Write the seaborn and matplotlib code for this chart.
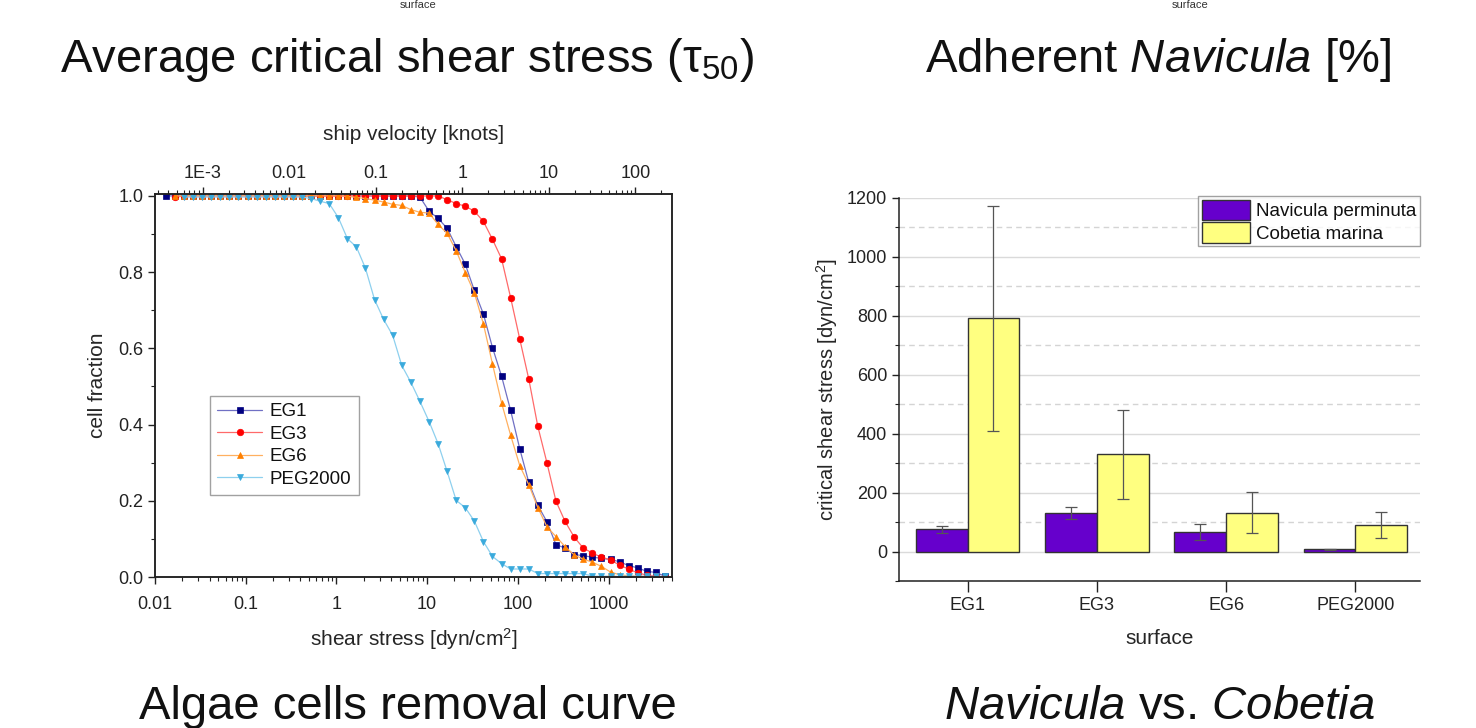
import numpy as np
import pandas as pd
import matplotlib
matplotlib.use("Agg")
import matplotlib.pyplot as plt
import seaborn as sns
from matplotlib.ticker import (LogLocator, MultipleLocator, FixedLocator,
                               FixedFormatter, NullFormatter)

nan = np.nan

# ---------------- data: removal curves ----------------
shear_stress = [0.0132, 0.0166, 0.0209, 0.0263, 0.0331, 0.0417, 0.0525, 0.0661,
                0.0832, 0.105, 0.132, 0.166, 0.209, 0.263, 0.331, 0.417, 0.525,
                0.661, 0.832, 1.05, 1.32, 1.66, 2.09, 2.63, 3.31, 4.17, 5.25,
                6.61, 8.32, 10.5, 13.2, 16.6, 20.9, 26.3, 33.1, 41.7, 52.5, 66.1,
                83.2, 105, 132, 166, 209, 263, 331, 417, 525, 661, 832, 1050,
                1320, 1660, 2090, 2630, 3310, 4170]

eg1 = [1.0, 1.0, 1.0, 1.0, 1.0, 1.0, 1.0, 1.0, 1.0, 1.0, 1.0, 1.0, 1.0, 1.0,
       1.0, 1.0, 1.0, 1.0, 1.0, 1.0, 1.0, 1.0, 1.0, 1.0, 1.0, 1.0, 1.0, 1.0,
       0.997, 0.960, 0.941, 0.915, 0.867, 0.821, 0.752, 0.690, 0.602, 0.527,
       0.437, 0.336, 0.248, 0.188, 0.145, 0.085, 0.076, 0.059, 0.056, 0.052,
       0.049, 0.046, 0.040, 0.030, 0.024, 0.015, 0.012, 0.002]

eg3 = [nan, 0.997, 1.0, 1.0, 1.0, 1.0, 1.0, 1.0, 1.0, 1.0, 1.0, 1.0, 1.0, 1.0,
       1.0, 1.0, 1.0, 1.0, 1.0, 1.0, 1.0, 1.0, 1.0, 1.0, 1.0, 1.0, 1.0, 1.0,
       1.0, 1.0, 1.0, 0.990, 0.980, 0.973, 0.960, 0.933, 0.886, 0.835, 0.733,
       0.624, 0.519, 0.395, 0.300, 0.199, 0.146, 0.105, 0.076, 0.063, 0.052,
       0.045, 0.031, 0.021, 0.011, 0.005, 0.002, 0.0]

eg6 = [nan, 1.0, 1.0, 1.0, 1.0, 1.0, 1.0, 1.0, 1.0, 1.0, 1.0, 1.0, 1.0, 1.0,
       1.0, 1.0, 1.0, 1.0, 1.0, 1.0, 0.999, 0.996, 0.993, 0.989, 0.984, 0.978,
       0.975, 0.964, 0.957, 0.955, 0.925, 0.902, 0.856, 0.799, 0.746, 0.664,
       0.559, 0.457, 0.372, 0.292, 0.242, 0.182, 0.132, 0.106, 0.080, 0.058,
       0.047, 0.039, 0.028, 0.013, 0.006, 0.003, 0.002, 0.001, 0.0, 0.0]

peg2000 = [nan, nan, 0.997, 0.997, 0.997, 0.997, 0.997, 0.997, 0.997, 0.997,
           0.997, 0.997, 0.997, 0.997, 0.997, 0.997, 0.993, 0.986, 0.980, 0.943,
           0.888, 0.866, 0.810, 0.728, 0.676, 0.634, 0.555, 0.511, 0.461, 0.408,
           0.350, 0.277, 0.201, 0.182, 0.147, 0.093, 0.054, 0.035, 0.021, 0.021,
           0.021, 0.009, 0.009, 0.009, 0.009, 0.009, 0.009, 0.002, 0.002, 0.002,
           0.002, 0.002, 0.002, 0.002, 0.002, 0.002]

curve_names = ["EG1", "EG3", "EG6", "PEG2000"]

top_ticks = [1e-3, 0.01, 0.1, 1, 10, 100]
top_labels = ["1E-3", "0.01", "0.1", "1", "10", "100"]
bottom_ticks = [0.01, 0.1, 1, 10, 100, 1000]
bottom_labels = ["0.01", "0.1", "1", "10", "100", "1000"]

# ---------------- data: critical shear stress bars ----------------
surfaces = ["EG1", "EG3", "EG6", "PEG2000"]
species = ["Navicula perminuta", "Cobetia marina"]
navicula = [75, 131, 65, 7]
navicula_err = [12, 20, 27, 1]
cobetia = [791, 330, 132, 90]
cobetia_err = [381, 150, 70, 44]

# ---------------- style ----------------
sns.set_style("ticks")
plt.rcParams["font.family"] = ["Liberation Sans", "DejaVu Sans"]
plt.rcParams["mathtext.fontset"] = "custom"
plt.rcParams["mathtext.rm"] = "Liberation Sans"
plt.rcParams["mathtext.it"] = "Liberation Sans:italic"
plt.rcParams["mathtext.bf"] = "Liberation Sans:bold"
plt.rcParams["axes.edgecolor"] = "#222222"
plt.rcParams["xtick.color"] = "#222222"
plt.rcParams["ytick.color"] = "#222222"
plt.rcParams["text.color"] = "#111111"

TICK_FS = 13
LABEL_FS = 15

W, H = 1476, 728
fig = plt.figure(figsize=(W / 100, H / 100), dpi=100)
fig.patch.set_facecolor("white")

def box(l, t, r, b):
    return [l / W, 1 - b / H, (r - l) / W, (b - t) / H]

# ---------------- left: removal curves ----------------
ax1 = fig.add_axes(box(155, 194, 672, 577))
frames = []
for name, vals in zip(curve_names, [eg1, eg3, eg6, peg2000]):
    frames.append(pd.DataFrame({"shear": shear_stress, "fraction": vals,
                                "surface": name}))
df_curves = pd.concat(frames, ignore_index=True).dropna()

dark = {"EG1": "#000080", "EG3": "#FF0000", "EG6": "#FF8000", "PEG2000": "#3AAADC"}
light = {"EG1": "#7070C4", "EG3": "#FF6A6A", "EG6": "#FFB060", "PEG2000": "#8ED0EE"}
markers = {"EG1": "s", "EG3": "o", "EG6": "^", "PEG2000": "v"}

sns.lineplot(data=df_curves, x="shear", y="fraction", hue="surface",
             hue_order=curve_names, style="surface", style_order=curve_names,
             markers=markers, dashes=False, palette=dark, estimator=None,
             sort=True, legend=False, ax=ax1, linewidth=0.9, markersize=4.7)
ax1.set_xscale("log")
curve_lines = ax1.lines[:4]
for ln, name in zip(curve_lines, curve_names):
    ln.set_color(light[name])
    ln.set_markerfacecolor(dark[name])
    ln.set_markeredgecolor(dark[name])
    ln.set_markeredgewidth(0.5)

ax1.set_xlim(0.01, 5000)
ax1.set_ylim(0, 1.005)
ax1.xaxis.set_major_locator(FixedLocator(bottom_ticks))
ax1.xaxis.set_major_formatter(FixedFormatter(bottom_labels))
ax1.xaxis.set_minor_locator(LogLocator(base=10, subs=range(2, 10), numticks=20))
ax1.xaxis.set_minor_formatter(NullFormatter())
ax1.yaxis.set_major_locator(MultipleLocator(0.2))
ax1.yaxis.set_minor_locator(MultipleLocator(0.1))
ax1.yaxis.set_major_formatter(plt.FuncFormatter(lambda v, p: f"{v:.1f}"))
ax1.tick_params(which="major", direction="out", length=5, width=1,
                labelsize=TICK_FS)
ax1.tick_params(which="minor", direction="out", length=3, width=0.8)
ax1.tick_params(axis="x", which="major", pad=9)
for s in ax1.spines.values():
    s.set_linewidth(1.1)
ax1.set_xlabel("shear stress [dyn/cm$^2$]", fontsize=LABEL_FS, labelpad=9)
ax1.set_ylabel("cell fraction", fontsize=LABEL_FS, labelpad=8)

ax1t = ax1.twiny()
ax1t.set_xscale("log")
ax1t.set_xlim(2.8e-4, 266)
ax1t.xaxis.set_major_locator(FixedLocator(top_ticks))
ax1t.xaxis.set_major_formatter(FixedFormatter(top_labels))
ax1t.xaxis.set_minor_locator(LogLocator(base=10, subs=range(2, 10), numticks=20))
ax1t.xaxis.set_minor_formatter(NullFormatter())
ax1t.tick_params(which="major", direction="out", length=5, width=1,
                 labelsize=TICK_FS, pad=4)
ax1t.tick_params(which="minor", direction="out", length=3, width=0.8)
ax1t.set_xlabel("ship velocity [knots]", fontsize=LABEL_FS, labelpad=18)
for s in ax1t.spines.values():
    s.set_linewidth(1.1)

leg1 = ax1.legend(curve_lines, curve_names, loc="upper left",
                  bbox_to_anchor=(0.106, 0.473), borderaxespad=0,
                  frameon=True, fancybox=False, edgecolor="#8a8a8a",
                  fontsize=13.5, handlelength=2.4, labelspacing=0.28,
                  handletextpad=0.4, borderpad=0.4)
leg1.get_frame().set_linewidth(1.0)

# ---------------- right: bar chart ----------------
ax2 = fig.add_axes(box(899, 198, 1420, 581))
df_bar = pd.DataFrame({
    "surface": surfaces + surfaces,
    "species": [species[0]] * len(surfaces) + [species[1]] * len(surfaces),
    "stress": navicula + cobetia,
})
sns.barplot(data=df_bar, x="surface", y="stress", hue="species",
            hue_order=species, order=surfaces,
            palette=["#6600CC", "#FFFF80"], saturation=1, errorbar=None,
            width=0.8, edgecolor="#333333", linewidth=1.0, ax=ax2, zorder=2)

for cont, vals, errs in zip(ax2.containers, [navicula, cobetia],
                            [navicula_err, cobetia_err]):
    xs = [b.get_x() + b.get_width() / 2 for b in cont]
    ax2.errorbar(xs, vals, yerr=errs, fmt="none", ecolor="#555555",
                 elinewidth=0.9, capsize=4, capthick=0.9, zorder=3)

ax2.set_ylim(-100, 1200)
ax2.set_xlim(-0.53, 3.5)
ax2.yaxis.set_major_locator(MultipleLocator(200))
ax2.yaxis.set_minor_locator(MultipleLocator(100))
ax2.set_axisbelow(True)
ax2.grid(which="major", axis="y", color="#dadada", linewidth=1.0, linestyle="-")
ax2.grid(which="minor", axis="y", color="#d4d4d4", linewidth=1.0,
         linestyle=(0, (4, 3)))
ax2.grid(which="major", axis="x", visible=False)
ax2.spines["top"].set_visible(False)
ax2.spines["right"].set_visible(False)
ax2.spines["left"].set_linewidth(1.1)
ax2.spines["bottom"].set_linewidth(1.1)
ax2.tick_params(which="major", direction="out", length=5, width=1,
                labelsize=TICK_FS)
ax2.tick_params(which="minor", direction="out", length=3, width=0.8)
ax2.tick_params(axis="x", which="major", length=8)
ax2.set_xlabel("surface", fontsize=LABEL_FS, labelpad=11)
ax2.set_ylabel("critical shear stress [dyn/cm$^2$]", fontsize=LABEL_FS - 0.5,
               labelpad=5)

leg2 = ax2.legend(loc="upper right", bbox_to_anchor=(1.0, 1.005),
                  borderaxespad=0, frameon=True, fancybox=False,
                  edgecolor="#8a8a8a", fontsize=13.5, handlelength=2.6,
                  handleheight=1.3, labelspacing=0.1, handletextpad=0.3,
                  borderpad=0.2, title=None)
leg2.get_frame().set_linewidth(1.0)

# ---------------- slide texts ----------------
fig.text(418 / W, 1.0, "surface", ha="center", va="top",
         fontsize=8, color="#333333")
fig.text(1190 / W, 1.0, "surface", ha="center", va="top",
         fontsize=8, color="#333333")
fig.text(407 / W, 1 - 60 / H, "Average critical shear stress (τ$_{50}$)",
         ha="center", va="center", fontsize=34)
fig.text(1158 / W, 1 - 60 / H, r"Adherent $\mathit{Navicula}$ [%]",
         ha="center", va="center", fontsize=34)
fig.text(408 / W, 1 - 707 / H, "Algae cells removal curve",
         ha="center", va="center", fontsize=34)
fig.text(1160 / W, 1 - 707 / H, r"$\mathit{Navicula}$ vs. $\mathit{Cobetia}$",
         ha="center", va="center", fontsize=34)

fig.savefig("out.png", dpi=100, facecolor="white")
